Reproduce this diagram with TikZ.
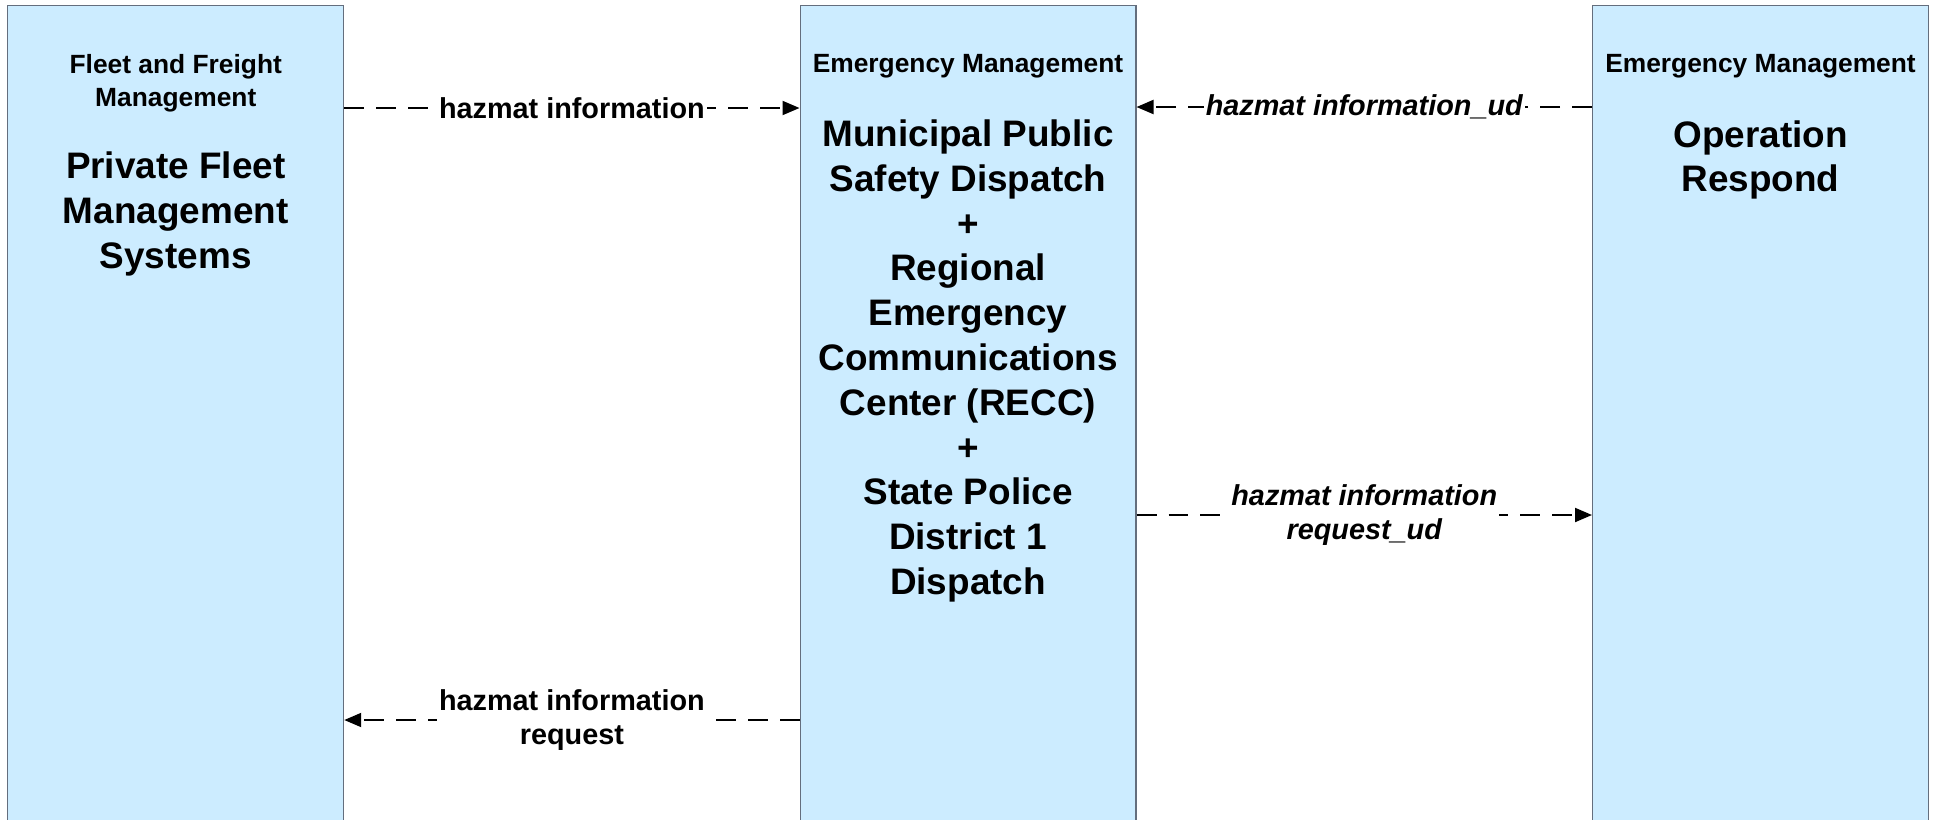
\documentclass[tikz,border=0pt]{standalone}
\usepackage{fontspec}
\setmainfont{Liberation Sans}
\usetikzlibrary{arrows.meta, positioning}
\definecolor{boxfill}{RGB}{204,236,255}
\definecolor{boxline}{RGB}{100,110,125}
\tikzset{
  sysbox/.style={rectangle, draw=boxline, fill=boxfill, line width=0.6pt,
    minimum width=6.72cm, minimum height=16.5cm, inner sep=0pt},
  hdrtext/.style={font=\fontsize{15}{18.9}\selectfont\bfseries, align=center, inner sep=0pt},
  titletext/.style={font=\fontsize{21}{25.5}\selectfont\bfseries, align=center, inner sep=0pt},
  flow/.style={-{Triangle[length=0.34cm, width=0.28cm]}, line width=1.1pt,
    dash pattern=on 0.4cm off 0.24cm},
  flowlbl/.style={font=\fontsize{16.4}{19}\selectfont\bfseries, align=center,
    fill=white, inner sep=1pt}
}

\begin{document}
\begin{tikzpicture}[x=0.02cm, y=-0.02cm]
  \clip (0,0) rectangle (1937,819);
  \fill[white] (0,0) rectangle (1937,819);

  % Systems
  \node[sysbox] (fleet) at (175.75, 418) {};
  \node[sysbox] (dispatch) at (968, 418) {};
  \node[sysbox] (respond) at (1760.5, 418) {};

  % Headers and titles
  \node[hdrtext] (fleethdr) at (175.75, 83) {Fleet and Freight\\Management};
  \node[titletext] (fleetname) at (175.75, 214) {Private Fleet\\Management\\Systems};
  \node[hdrtext] (dispatchhdr) at (968, 66.5) {Emergency Management};
  \node[titletext] (dispatchname) at (968, 361) {Municipal Public\\Safety Dispatch\\+\\Regional\\Emergency\\Communications\\Center (RECC)\\+\\State Police\\District 1\\Dispatch};
  \node[hdrtext] (respondhdr) at (1760.5, 66.5) {Emergency Management};
  \node[titletext] (respondname) at (1760.5, 160) {Operation\\Respond};

  % Flows
  \draw[flow] (fleet.east |- 0,108) -- (dispatch.west |- 0,108)
    node[midway, flowlbl] {hazmat information};
  \draw[flow] (respond.west |- 0,107) -- (dispatch.east |- 0,107)
    node[midway, flowlbl, font=\fontsize{16.4}{19}\selectfont\bfseries\itshape] {hazmat information\_ud};
  \draw[flow] (dispatch.east |- 0,515) -- (respond.west |- 0,515)
    node[midway, flowlbl, font=\fontsize{16.4}{19}\selectfont\bfseries\itshape] {hazmat information\\request\_ud};
  \draw[flow] (dispatch.west |- 0,720) -- (fleet.east |- 0,720)
    node[midway, flowlbl] {hazmat information\\request};
\end{tikzpicture}
\end{document}
